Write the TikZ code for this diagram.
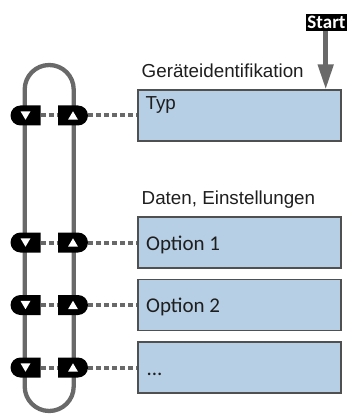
\documentclass[tikz,border=0pt]{standalone}
\usepackage{fontspec}
\setmainfont{Liberation Sans}
\newfontfamily\calibri{Carlito}
\usetikzlibrary{shapes.misc,arrows.meta,calc}

\definecolor{linegray}{HTML}{696969}
\definecolor{boxfill}{HTML}{B6CFE5}
\definecolor{boxline}{HTML}{505050}
\definecolor{ink}{HTML}{1E1E1E}

\begin{document}
\begin{tikzpicture}[x=1pt,y=-1pt,
  loopline/.style={draw=linegray,line width=4.3pt},
  entry/.style={rectangle,draw=boxline,line width=1.2pt,fill=boxfill,
    minimum width=203pt,minimum height=51pt,inner sep=0pt},
  heading/.style={anchor=base west,inner sep=0pt,text=ink,font=\fontsize{18.8}{21}\selectfont},
  entrytext/.style={anchor=base west,inner sep=0pt,text=ink,font=\calibri\fontsize{21}{24}\selectfont},
  typtext/.style={anchor=base west,inner sep=0pt,text=ink,font=\fontsize{18.8}{21}\selectfont},
  btnleft/.style={rounded rectangle,rounded rectangle east arc=none,fill=black,
    minimum width=30pt,minimum height=20pt,inner sep=0pt},
  btnright/.style={rounded rectangle,rounded rectangle west arc=none,fill=black,
    minimum width=30pt,minimum height=20pt,inner sep=0pt},
  dashconn/.style={draw=linegray,line width=4pt,dash pattern=on 5pt off 3pt},
  startbox/.style={rectangle,fill=black,text=white,inner sep=0pt,
    minimum width=41pt,minimum height=17.5pt,font=\calibri\bfseries\fontsize{19}{19}\selectfont},
  startarrow/.style={draw=linegray,line width=4.6pt,-{Triangle[length=25pt,width=15pt]}}
]
\useasboundingbox (0,0) rectangle (352,414);

% navigation loop
\draw[loopline,rounded corners=24.5pt] (24.7,65) rectangle (73.7,411);

% menu entries
\node[entry] (typ) at (239.5,115.5) {};
\node[entry] (o1) at (239.5,242.5) {};
\node[entry] (o2) at (239.5,305) {};
\node[entry] (o3) at (239.5,367.5) {};

\node[heading] (h1) at (141.5,77.5) {Geräteidentifikation};
\node[heading] (h2) at (141.5,204.3) {Daten, Einstellungen};

\node[typtext] (t0) at ([xshift=8pt,yshift=-20.5pt]typ.north west) {Typ};
\node[entrytext] (t1) at ([xshift=8.5pt,yshift=-34pt]o1.north west) {Option 1};
\node[entrytext] (t2) at ([xshift=8.5pt,yshift=-34pt]o2.north west) {Option 2};
\node[entrytext] (t3) at ([xshift=9pt,yshift=-34pt]o3.north west) {...};

% up/down keys with links to the entries
\foreach \n/\y in {typ/115.5, o1/242.5, o2/305, o3/367.5} {
  \node[btnleft] (\n-l) at (25.5,\y) {};
  \node[btnright] (\n-r) at (73,\y) {};
  \fill[white] ($(\n-l.center)+(-5,-4.2)$) -- ++(10,0) -- ++(-5,8.4) -- cycle;
  \fill[white] ($(\n-r.center)+(-5,4.2)$) -- ++(10,0) -- ++(-5,-8.4) -- cycle;
  \draw[dashconn] (\n-l.east) -- (\n-r.west);
  \draw[dashconn] (\n-r.east) -- (\n.west);
}

% start marker
\node[startbox] (start) at (326.5,22.5) {Start};
\draw[startarrow] (start.south -| 325.7,0) -- (typ.north -| 325.7,0);
\end{tikzpicture}
\end{document}
